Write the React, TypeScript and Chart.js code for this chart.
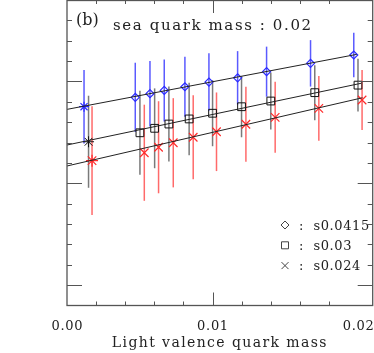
import React, { useEffect, useRef } from 'react';
import { Chart, registerables } from 'chart.js';

Chart.register(...registerables);

const FONT = '"DejaVu Serif", serif';

// Series: sea quark mass 0.02, three strange-quark masses
const seriesLabels = ['s0.0415', 's0.03', 's0.024'];

const diamondX = [0.00117, 0.00469, 0.0057, 0.00668, 0.0081, 0.00975, 0.01172, 0.01371, 0.01673, 0.0197];
const diamondY = [9.76, 10.22, 10.40, 10.56, 10.74, 10.97, 11.18, 11.48, 11.89, 12.30];
const diamondErr = [1.80, 1.70, 1.61, 1.52, 1.47, 1.41, 1.31, 1.23, 1.14, 1.09];

const squareX = [0.00148, 0.00501, 0.00602, 0.007, 0.00839, 0.01, 0.01199, 0.014, 0.01702, 0.01999];
const squareY = [8.04, 8.48, 8.70, 8.91, 9.16, 9.44, 9.76, 10.04, 10.45, 10.82];
const squareErr = [2.26, 2.06, 1.96, 1.84, 1.78, 1.62, 1.50, 1.40, 1.35, 1.30];

const crossX = [0.00172, 0.00531, 0.00629, 0.0073, 0.00867, 0.01027, 0.01229, 0.0143, 0.0173, 0.02027];
const crossY = [7.11, 7.50, 7.77, 7.99, 8.26, 8.53, 8.90, 9.24, 9.68, 10.09];
const crossErr = [2.67, 2.36, 2.26, 2.19, 2.06, 1.93, 1.84, 1.74, 1.59, 1.47];

// Linear fits (end points)
const fitDiamondX = [0, 0.0199];
const fitDiamondY = [9.63, 12.33];
const fitSquareX = [0, 0.0202];
const fitSquareY = [7.88, 10.91];
const fitCrossX = [0, 0.0203];
const fitCrossY = [6.85, 10.20];

// Axes
const xMin = 0;
const xMax = 0.021;
const xTickValues = [0, 0.01, 0.02];
const xTickLabels = ['0.00', '0.01', '0.02'];
const xMinorTicks = [0.002, 0.004, 0.006, 0.008, 0.01, 0.012, 0.014, 0.016, 0.018];
const xMajorTicks = [0.01];
const yMin = 0;
const yMax = 15;
const yMinorTicks = [1, 2, 3, 4, 5, 6, 7, 8, 9, 10, 11, 12, 13, 14];
const yMajorTicks = [1, 6, 11];

const panelLabel = '(b)';
const panelTitle = 'sea quark mass : 0.02';
const xTitle = 'Light valence quark mass';

const pts = (xs: number[], ys: number[]) => xs.map((x, i) => ({ x, y: ys[i] }));

const errPlugin = {
  id: 'errbars',
  beforeDatasetsDraw(chart: any) {
    const { ctx, scales } = chart;
    const x = scales.x, y = scales.y;
    chart.data.datasets.forEach((ds: any) => {
      if (!ds.errors) return;
      ctx.save();
      ctx.strokeStyle = ds.errColor;
      ctx.lineWidth = 1.5;
      ds.data.forEach((p: any, i: number) => {
        const px = x.getPixelForValue(p.x);
        ctx.beginPath();
        ctx.moveTo(px, y.getPixelForValue(p.y - ds.errors[i]));
        ctx.lineTo(px, y.getPixelForValue(p.y + ds.errors[i]));
        ctx.stroke();
      });
      ctx.restore();
    });
  },
};

const framePlugin = {
  id: 'frame',
  afterDraw(chart: any) {
    const { ctx, chartArea, scales } = chart;
    const x = scales.x, y = scales.y;
    const { left, right, top, bottom } = chartArea;
    ctx.save();
    ctx.strokeStyle = '#555';
    ctx.lineWidth = 1.3;
    ctx.strokeRect(left, top + 0.5, right - left, bottom - top - 0.5);
    ctx.lineWidth = 1;
    ctx.beginPath();
    xMinorTicks.forEach((v) => {
      const px = Math.round(x.getPixelForValue(v)) + 0.5;
      const len = xMajorTicks.includes(v) ? 13 : 4;
      ctx.moveTo(px, bottom); ctx.lineTo(px, bottom - len);
      ctx.moveTo(px, top); ctx.lineTo(px, top + len);
    });
    yMinorTicks.forEach((v) => {
      const py = Math.round(y.getPixelForValue(v)) + 0.5;
      const len = yMajorTicks.includes(v) ? 15 : 5;
      ctx.moveTo(left, py); ctx.lineTo(left + len, py);
      ctx.moveTo(right, py); ctx.lineTo(right - len, py);
    });
    ctx.stroke();

    // texts
    ctx.fillStyle = '#222';
    ctx.textBaseline = 'alphabetic';
    ctx.textAlign = 'left';
    (ctx as any).letterSpacing = '0px';
    ctx.font = `16px ${FONT}`;
    ctx.fillText(panelLabel, 76, 24.5);
    (ctx as any).letterSpacing = '1.6px';
    ctx.font = `15px ${FONT}`;
    ctx.fillText(panelTitle, 113, 29.5);

    // x tick labels
    (ctx as any).letterSpacing = '0.7px';
    ctx.font = `13px ${FONT}`;
    ctx.textAlign = 'center';
    xTickValues.forEach((v, i) => {
      ctx.fillText(xTickLabels[i], x.getPixelForValue(v) + 0.4, 330);
    });

    (ctx as any).letterSpacing = '1.4px';
    ctx.font = `14px ${FONT}`;
    ctx.textAlign = 'center';
    ctx.fillText(xTitle, (left + right) / 2, 346.5);

    // legend
    const markers = ['diamond', 'square', 'cross'];
    (ctx as any).letterSpacing = '0.6px';
    ctx.font = `13px ${FONT}`;
    ctx.textAlign = 'left';
    ctx.strokeStyle = '#444';
    ctx.lineWidth = 1;
    seriesLabels.forEach((lab, i) => {
      const cy = 225 + i * 20.3;
      const cx = 285;
      ctx.beginPath();
      if (markers[i] === 'diamond') {
        ctx.moveTo(cx, cy - 4); ctx.lineTo(cx + 4, cy); ctx.lineTo(cx, cy + 4); ctx.lineTo(cx - 4, cy); ctx.closePath();
      } else if (markers[i] === 'square') {
        ctx.rect(cx - 3.5, cy - 3.5, 7, 7);
      } else {
        ctx.moveTo(cx - 3.5, cy - 3.5); ctx.lineTo(cx + 3.5, cy + 3.5);
        ctx.moveTo(cx + 3.5, cy - 3.5); ctx.lineTo(cx - 3.5, cy + 3.5);
      }
      ctx.stroke();
      ctx.fillText(':  ' + lab, 299, cy + 4.5);
    });
    ctx.restore();
  },
};

export default function App() {
  const ref = useRef<HTMLCanvasElement>(null);
  useEffect(() => {
    const canvas = ref.current!;
    const firstStar = (style: string) => (c: any) => (c.dataIndex === 0 ? 'star' : style);
    const chart = new Chart(canvas, {
      type: 'scatter',
      data: {
        datasets: [
          { label: 'fit1', data: pts(fitDiamondX, fitDiamondY), showLine: true, borderColor: '#222', borderWidth: 1, pointRadius: 0 } as any,
          { label: 'fit2', data: pts(fitSquareX, fitSquareY), showLine: true, borderColor: '#222', borderWidth: 1, pointRadius: 0 } as any,
          { label: 'fit3', data: pts(fitCrossX, fitCrossY), showLine: true, borderColor: '#222', borderWidth: 1, pointRadius: 0 } as any,
          {
            label: seriesLabels[0], data: pts(diamondX, diamondY), errors: diamondErr, errColor: '#5a5aff',
            pointStyle: firstStar('rectRot'), pointRadius: (c: any) => (c.dataIndex === 0 ? 5 : 4), borderColor: '#2a2aff', backgroundColor: 'rgba(0,0,0,0)', borderWidth: 1.2,
          } as any,
          {
            label: seriesLabels[1], data: pts(squareX, squareY), errors: squareErr, errColor: '#7a7a7a',
            pointStyle: firstStar('rect'), pointRadius: 5.5, borderColor: '#111', backgroundColor: 'rgba(0,0,0,0)', borderWidth: 1,
          } as any,
          {
            label: seriesLabels[2], data: pts(crossX, crossY), errors: crossErr, errColor: '#ff6a6a',
            pointStyle: firstStar('crossRot'), pointRadius: 6, borderColor: '#ff2a2a', backgroundColor: 'rgba(0,0,0,0)', borderWidth: 1.2,
          } as any,
        ],
      },
      options: {
        animation: false,
        responsive: false,
        layout: { autoPadding: false, padding: { left: 67, right: 1.3, top: 0, bottom: 47.5 } },
        plugins: { legend: { display: false }, tooltip: { enabled: false }, title: { display: false } },
        scales: {
          x: { type: 'linear', min: xMin, max: xMax, display: false },
          y: { type: 'linear', min: yMin, max: yMax, display: false },
        },
      },
      plugins: [errPlugin, framePlugin],
    });
    return () => chart.destroy();
  }, []);
  return (
    <div style={{ position: 'absolute', left: 0, top: 0, width: 374, height: 353, background: '#fff' }}>
      <canvas ref={ref} width={374} height={353} style={{ width: 374, height: 353 }} />
    </div>
  );
}
